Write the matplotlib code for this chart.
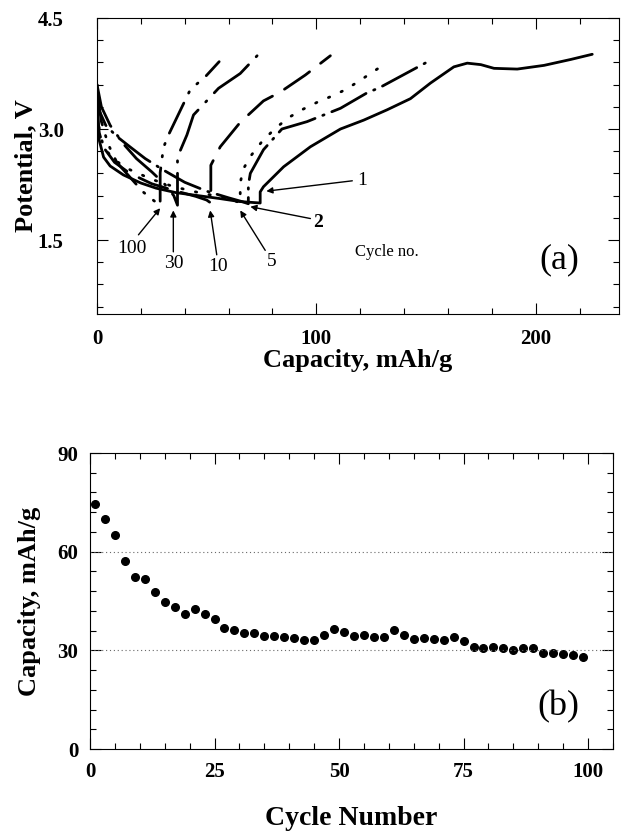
import matplotlib
matplotlib.use("Agg")
from matplotlib import pyplot as plt
from matplotlib.ticker import MultipleLocator

plt.rcParams['font.family'] = ['Liberation Serif', 'DejaVu Serif']

# ---- Panel (a): potential vs capacity, one curve per cycle (discharge then charge) ----
# cycle 1, solid
cap1 = [0, 0.3, 1, 3, 6, 12, 20, 27, 36, 46, 56, 65, 74.4, 74.4, 75.9, 85.1, 97.3, 111, 121.6, 132.3, 142.9, 152, 162.7, 168.8, 175, 181, 191.6, 203.8, 216, 225.8]
volt1 = [3.6, 3.2, 2.85, 2.62, 2.5, 2.38, 2.27, 2.2, 2.14, 2.1, 2.06, 2.02, 2.0, 2.15, 2.22, 2.49, 2.76, 3.0, 3.12, 3.26, 3.41, 3.62, 3.84, 3.89, 3.87, 3.82, 3.81, 3.86, 3.94, 4.01]
# cycle 2, dash-dot
cap2 = [0, 1, 4, 9, 15, 22, 30, 40, 50, 60, 66, 69, 69, 69.9, 75.9, 84.3, 95.8, 111, 123.2, 128.9, 150.2]
volt2 = [3.55, 3.25, 3.05, 2.9, 2.76, 2.6, 2.45, 2.28, 2.16, 2.07, 2.02, 1.99, 2.24, 2.4, 2.72, 3.0, 3.1, 3.28, 3.49, 3.56, 3.9]
# cycle 5, dotted
cap5 = [0, 1, 3, 8, 15, 25, 35, 45, 55, 62, 65.3, 65.3, 66.7, 70.2, 75.2, 81.3, 87.7, 94.1, 100.3, 106.7, 113.2, 119.6, 125.7, 132.3]
volt5 = [3.4, 3.0, 2.75, 2.58, 2.45, 2.32, 2.22, 2.15, 2.09, 2.04, 2.0, 2.27, 2.46, 2.64, 2.83, 3.01, 3.16, 3.27, 3.36, 3.44, 3.53, 3.65, 3.77, 3.9]
# cycle 10, long dash
cap10 = [0, 1, 3, 8, 15, 25, 35, 45, 50, 51.9, 51.9, 56.2, 65.3, 75.9, 83.6, 95, 106.4]
volt10 = [3.3, 2.95, 2.75, 2.55, 2.4, 2.26, 2.17, 2.09, 2.04, 2.0, 2.51, 2.76, 3.09, 3.38, 3.5, 3.73, 3.99]
# cycle 30, long dash-dot
cap30 = [0, 2, 6, 12, 18, 25, 31, 35, 36.7, 36.7, 41, 44, 55.4, 65.3, 73]
volt30 = [3.6, 3.3, 3.05, 2.8, 2.6, 2.42, 2.25, 2.1, 1.97, 2.62, 2.92, 3.19, 3.55, 3.75, 3.99]
# cycle 100, dash-dot-dot
cap100 = [0, 2, 5, 9, 15, 21, 26, 28.8, 28.8, 30.3, 32.6, 42.5, 49.8, 55.7]
volt100 = [3.5, 3.1, 2.8, 2.55, 2.35, 2.15, 2.03, 1.97, 2.41, 2.75, 2.92, 3.53, 3.72, 3.91]

# label text, label position, arrow tail, arrow head (capacity, V)
cycleLabels = ["1", "2", "5", "10", "30", "100"]
labelPos = [(118.5, 2.30), (101, 1.73), (79.8, 1.21), (55.4, 1.14), (34.9, 1.18), (15.8, 1.39)]
arrowTail = [(116.4, 2.30), (97.3, 1.79), (76.7, 1.36), (54.6, 1.30), (34.8, 1.34), (18.9, 1.57)]
arrowHead = [(77.2, 2.16), (69.9, 1.95), (65.3, 1.90), (51.6, 1.90), (34.8, 1.90), (28.8, 1.93)]

# ---- Panel (b): capacity retention ----
cycleNumber = [1, 3, 5, 7, 9, 11, 13, 15, 17, 19, 21, 23, 25, 27, 29, 31, 33, 35, 37, 39, 41, 43, 45, 47, 49,
               51, 53, 55, 57, 59, 61, 63, 65, 67, 69, 71, 73, 75, 77, 79, 81, 83, 85, 87, 89, 91, 93, 95, 97, 99]
capacity = [74.5, 69.8, 65.0, 57.1, 52.4, 51.6, 47.6, 44.8, 43.1, 41.1, 42.5, 41.1, 39.4, 36.7, 36.2, 35.3, 35.2,
            34.3, 34.3, 34.1, 33.8, 33.1, 33.1, 34.7, 36.5, 35.7, 34.4, 34.7, 34.1, 34.1, 36.2, 34.7, 33.3, 33.8,
            33.3, 33.1, 34.1, 32.9, 31.1, 30.6, 31.1, 30.6, 30.1, 30.6, 30.6, 29.3, 29.3, 28.8, 28.5, 28.1]


fig = plt.figure(figsize=(6.21, 8.38), dpi=100)
axA = fig.add_axes([0.1562, 0.6253, 0.8406, 0.3532])
axB = fig.add_axes([0.1449, 0.1062, 0.8422, 0.3532])

lw = 2.0
axA.plot(cap1, volt1, color="black", lw=lw, solid_capstyle="round")
axA.plot(cap2, volt2, color="black", lw=lw, dashes=(14, 3, 0.5, 3), dash_capstyle="round")
axA.plot(cap5, volt5, color="black", lw=lw, dashes=(0.5, 4.5), dash_capstyle="round")
axA.plot(cap10, volt10, color="black", lw=lw, dashes=(11, 5), dash_capstyle="round")
axA.plot(cap30, volt30, color="black", lw=lw, dashes=(16, 4, 0.5, 4), dash_capstyle="round")
axA.plot(cap100, volt100, color="black", lw=lw, dashes=(12, 4, 0.5, 4, 0.5, 4), dash_capstyle="round")

for i in range(len(cycleLabels)):
    axA.annotate("", xy=arrowHead[i], xytext=arrowTail[i],
                 arrowprops=dict(arrowstyle="-|>", lw=1.0, color="black", mutation_scale=9, shrinkA=0, shrinkB=0))
    weight = "bold" if cycleLabels[i] == "2" else "normal"
    ha = "left" if cycleLabels[i] == "1" else "center"
    axA.text(labelPos[i][0], labelPos[i][1], cycleLabels[i], fontsize=14, ha=ha, va="center", fontweight=weight)

axA.text(132, 1.34, "Cycle no.", fontsize=12, ha="center", va="center")
axA.text(211, 1.23, "(a)", fontsize=26, ha="center", va="center")

axA.set_xlim(0, 238)
axA.set_ylim(0.5, 4.5)
axA.xaxis.set_major_locator(MultipleLocator(100))
axA.xaxis.set_minor_locator(MultipleLocator(20))
axA.set_yticks([1.5, 3.0, 4.5])
axA.yaxis.set_minor_locator(MultipleLocator(0.3))
axA.tick_params(axis="x", which="major", pad=11)
axA.tick_params(axis="y", which="major", pad=24)
axA.set_xlabel("Capacity, mAh/g", fontsize=19, fontweight="bold", labelpad=0)
axA.set_ylabel("Potential, V", fontsize=19, fontweight="bold", labelpad=0)

# Panel b
axB.plot(cycleNumber, capacity, linestyle="", marker="o", ms=5.5, color="black")
for gridVal in [30, 60]:
    axB.axhline(gridVal, color="dimgray", lw=0.8, ls=(0, (1, 2.5)))
axB.text(94, 12.8, "(b)", fontsize=26, ha="center", va="center")

axB.set_xlim(0, 105)
axB.set_ylim(0, 90)
axB.xaxis.set_major_locator(MultipleLocator(25))
axB.xaxis.set_minor_locator(MultipleLocator(5))
axB.yaxis.set_major_locator(MultipleLocator(30))
axB.yaxis.set_minor_locator(MultipleLocator(6))
axB.tick_params(axis="x", which="major", pad=9.5)
axB.tick_params(axis="y", which="major", pad=8.5)
axB.set_xlabel("Cycle Number", fontsize=20, fontweight="bold", labelpad=17)
axB.set_ylabel("Capacity, mAh/g", fontsize=19, fontweight="bold", labelpad=12)

for ax in [axA, axB]:
    ax.tick_params(which="both", direction="in", top=True, right=True, width=0.8, labelsize=15)
    ax.tick_params(which="major", length=8)
    ax.tick_params(which="minor", length=4)
    for spine in ax.spines.values():
        spine.set_linewidth(0.8)
    for lbl in ax.get_xticklabels() + ax.get_yticklabels():
        lbl.set_fontweight("bold")

fig.savefig("out.png", dpi=100)
